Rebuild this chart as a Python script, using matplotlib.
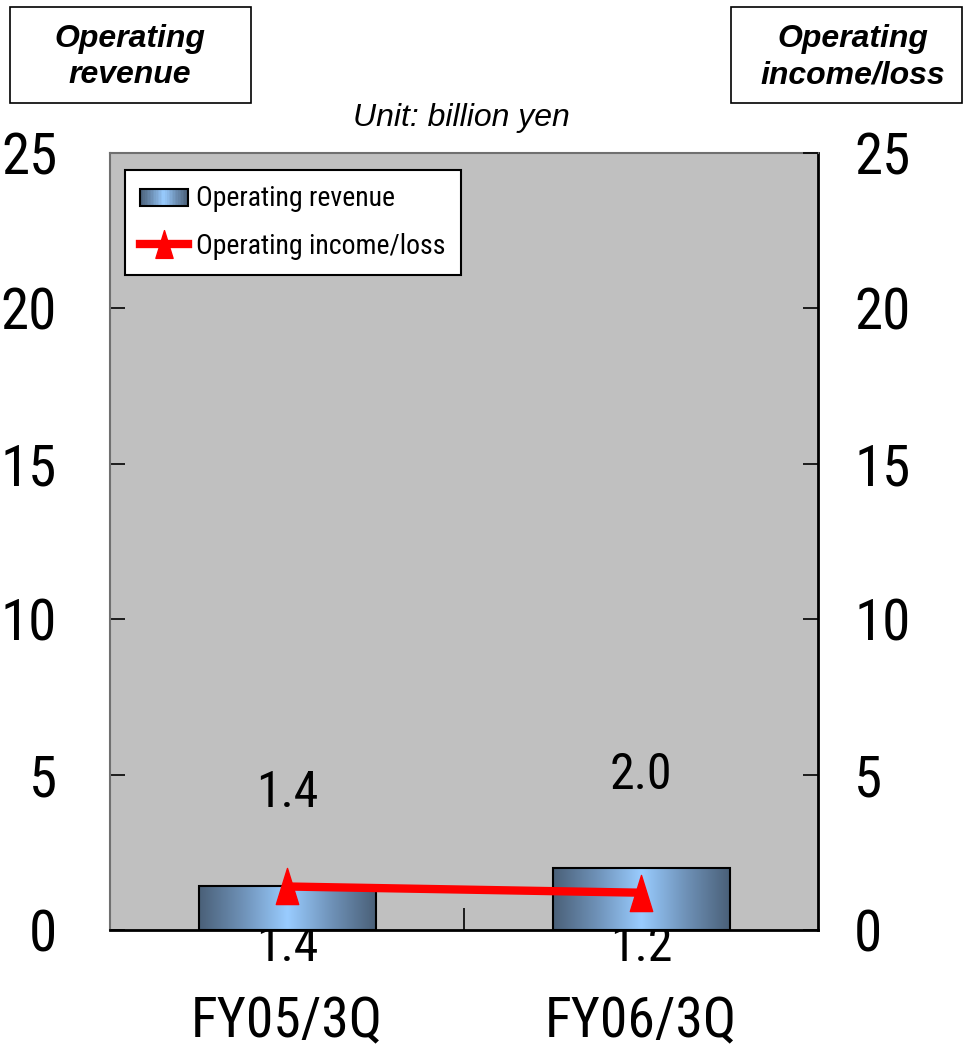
import numpy as np
import matplotlib.pyplot as plt
from matplotlib.colors import LinearSegmentedColormap
from matplotlib.legend_handler import HandlerBase
from matplotlib.lines import Line2D
from matplotlib.patches import Rectangle
from matplotlib.path import Path

# Quarterly figures (billion yen)
kategoriler = ["FY05/3Q", "FY06/3Q"]
gelir = [1.4, 2.0]          # operating revenue
kar = [1.4, 1.2]            # operating income/loss
y_ticks = [0, 5, 10, 15, 20, 25]

dar = ['Liberation Sans Narrow', 'Arial Narrow', 'Roboto Condensed', 'DejaVu Sans']
genis = ['Liberation Sans', 'DejaVu Sans']

koyu = '#4a6078'
acik = '#99ccff'
grad_cmap = LinearSegmentedColormap.from_list('bar_grad', [koyu, '#6f92b8', acik, '#6f92b8', koyu])


class GradientHandler(HandlerBase):
    # legend swatch made of thin vertical strips
    def create_artists(self, legend, orig_handle, xdescent, ydescent,
                       width, height, fontsize, trans):
        parcalar = []
        n = 30
        for i in range(n):
            c = grad_cmap((i + 0.5) / n)
            parcalar.append(Rectangle((-xdescent + width * i / n, -ydescent),
                                      width / n + 0.3, height * 0.9, facecolor=c,
                                      edgecolor='none', transform=trans))
        parcalar.append(Rectangle((-xdescent, -ydescent), width, height * 0.9,
                                  facecolor='none', edgecolor='black', lw=1.5, transform=trans))
        return parcalar


fig = plt.figure(figsize=(9.63, 10.52), dpi=100)
ax = fig.add_axes([110 / 963, 122 / 1052, 708 / 963, 777 / 1052])
ax.set_facecolor('#c0c0c0')

x = np.arange(len(kategoriler))
cubuklar = ax.bar(x, gelir, width=0.5, facecolor='none', edgecolor='black', lw=1.5, zorder=3)
grad = np.linspace(0, 1, 256).reshape(1, -1)
for rect in cubuklar:
    x0, y0 = rect.get_x(), rect.get_y()
    w, h = rect.get_width(), rect.get_height()
    im = ax.imshow(grad, cmap=grad_cmap, extent=[x0, x0 + w, y0, y0 + h],
                   aspect='auto', zorder=2, interpolation='bilinear')
    im.set_clip_path(rect)

tri = Path([(-0.31, -0.5), (0.31, -0.5), (0, 0.5), (-0.31, -0.5)],
           [Path.MOVETO, Path.LINETO, Path.LINETO, Path.CLOSEPOLY])
ax.plot(x, kar, color='red', lw=6, marker=tri, markersize=26, zorder=4,
        solid_capstyle='butt')

for xi, v in zip(x, gelir):
    ax.text(xi, v + 3.0, f"{v:.1f}", ha='center', va='center', fontsize=36, family=dar)
for xi, v in zip(x, kar):
    ax.text(xi, -0.55, f"{v:.1f}", ha='center', va='center', fontsize=36, family=dar,
            clip_on=False, zorder=1)

ax.set_xlim(-0.5, 1.5)
ax.set_ylim(0, 25)
ax.set_yticks(y_ticks)
ax.set_xticks(x)
ax.set_xticklabels(kategoriler)
ax.set_xticks([0.5], minor=True)
ax.tick_params(axis='x', which='major', length=0, pad=47, labelsize=40)
ax.tick_params(axis='x', which='minor', direction='in', length=16, width=1.2)
ax.tick_params(axis='y', direction='in', length=11, width=1.2, pad=38, labelsize=41)
for t in ax.get_xticklabels() + ax.get_yticklabels():
    t.set_family(dar)

for s in ['top', 'left']:
    ax.spines[s].set_color('#707070')
    ax.spines[s].set_linewidth(1.5)
for s in ['bottom', 'right']:
    ax.spines[s].set_color('black')
    ax.spines[s].set_linewidth(2)

ax2 = ax.twinx()
ax2.set_ylim(0, 25)
ax2.set_yticks(y_ticks)
ax2.tick_params(axis='y', direction='in', length=11, width=1.2, pad=26, labelsize=41)
for t in ax2.get_yticklabels():
    t.set_family(dar)
for s in ax2.spines.values():
    s.set_visible(False)

h_bar = Rectangle((0, 0), 1, 1)
h_line = Line2D([], [], color='red', lw=6, marker=tri, markersize=20)
leg = ax.legend([h_bar, h_line], ["Operating revenue", "Operating income/loss"],
                handler_map={Rectangle: GradientHandler()},
                loc='upper left', bbox_to_anchor=(15 / 708, 1 - 17 / 777), borderaxespad=0,
                fancybox=False, framealpha=1, edgecolor='black', handlelength=1.7,
                handletextpad=0.3, borderpad=0.55, labelspacing=0.75,
                prop={'family': dar, 'size': 20})
leg.get_frame().set_linewidth(1.5)

# heading boxes above both axes
fig.text(130 / 963, 1 - 57 / 1052, "Operating\nrevenue", ha='center', va='center',
         fontsize=23, fontweight='bold', style='italic', family=genis, linespacing=1.3)
fig.text(853 / 963, 1 - 57 / 1052, "Operating\nincome/loss", ha='center', va='center',
         fontsize=23, fontweight='bold', style='italic', family=genis, linespacing=1.3)
fig.patches.append(Rectangle((10 / 963, 1 - 103 / 1052), 241 / 963, 96 / 1052,
                             transform=fig.transFigure, facecolor='none', edgecolor='black', lw=1.2))
fig.patches.append(Rectangle((731 / 963, 1 - 103 / 1052), 231 / 963, 96 / 1052,
                             transform=fig.transFigure, facecolor='none', edgecolor='black', lw=1.2))
fig.text(461 / 963, 1 - 118 / 1052, "Unit: billion yen", ha='center', va='center',
         fontsize=23, style='italic', family=genis)

fig.savefig('out.png', dpi=100)
